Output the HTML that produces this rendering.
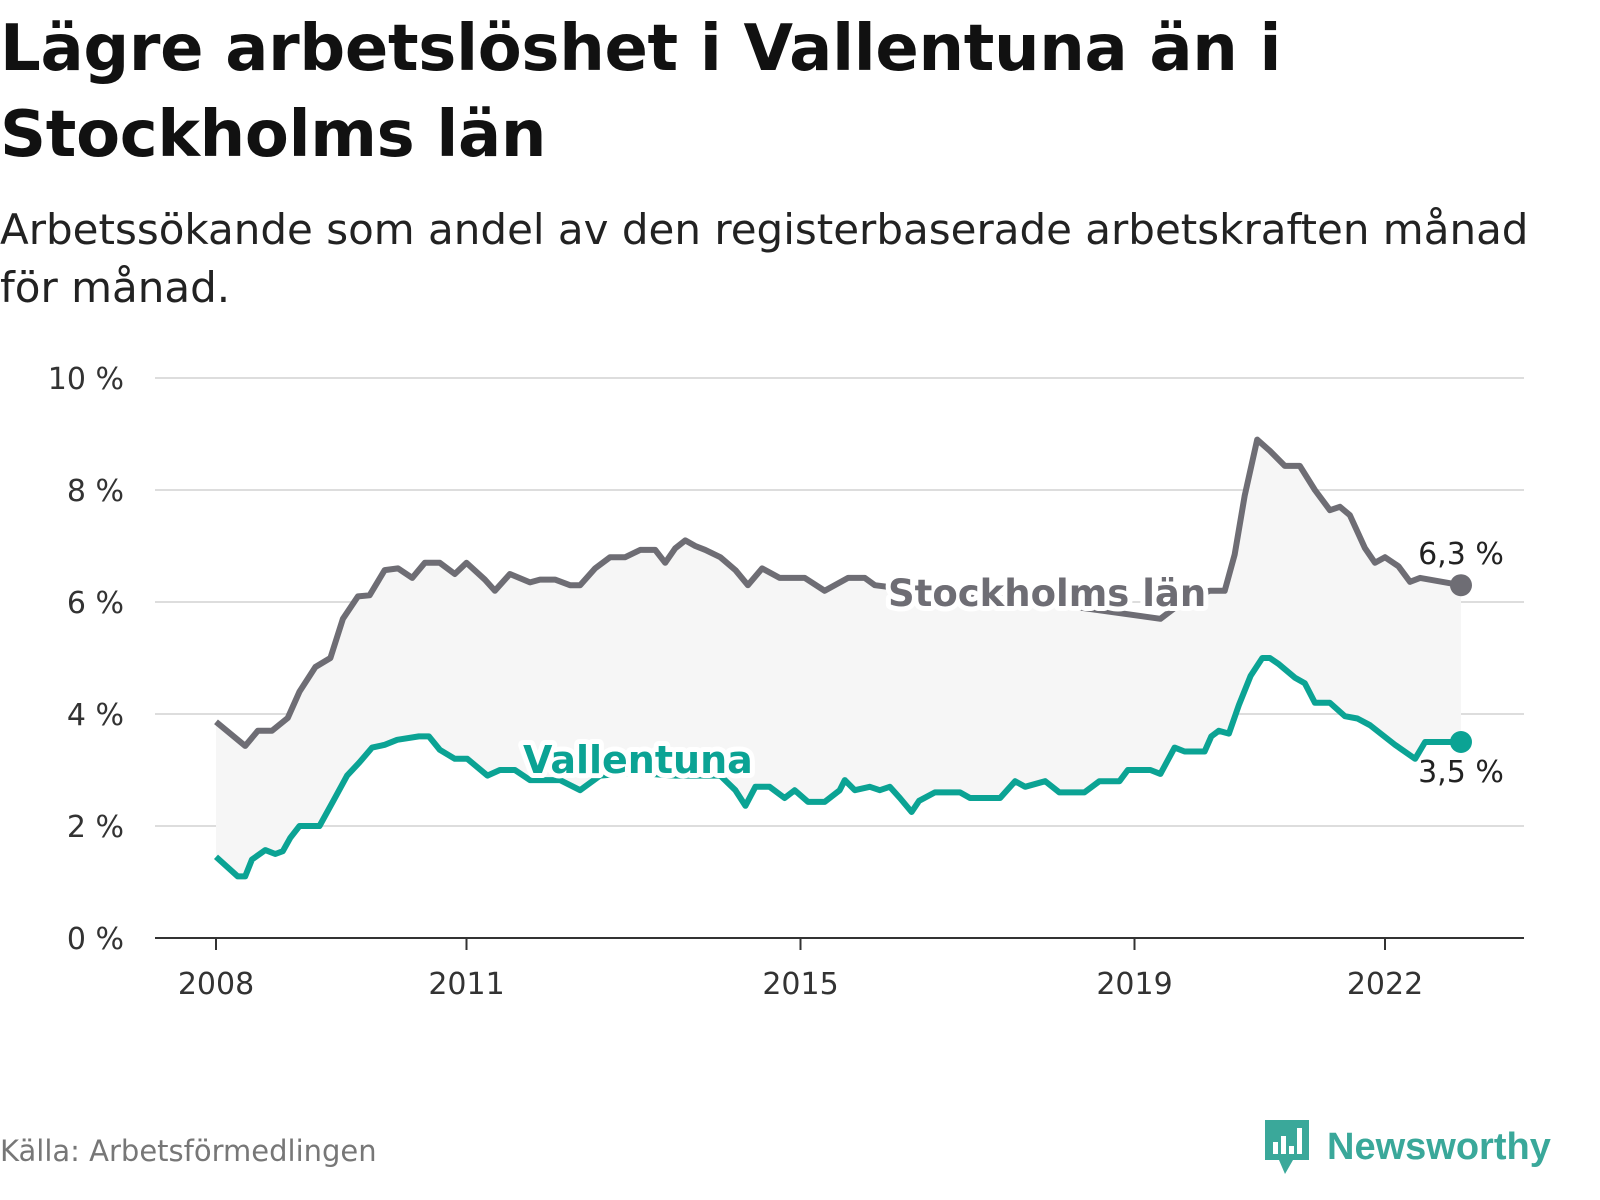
<!DOCTYPE html>
<html><head><meta charset="utf-8">
<style>
body{margin:0;width:1600px;height:1200px;background:#fff;font-family:"DejaVu Sans","Liberation Sans",sans-serif;overflow:hidden;position:relative;color:#111}
#title{position:absolute;left:0;top:6px;font-size:64px;font-weight:bold;line-height:86px;margin:0;color:#111;letter-spacing:-0.3px}
#sub{position:absolute;left:0;top:201px;font-size:42px;line-height:58px;color:#222;width:1560px}
#src{position:absolute;left:0;top:1134px;font-size:29px;color:#777}
#logo{position:absolute;left:1263px;top:1118px;display:flex;align-items:center}
svg text{font-family:"DejaVu Sans","Liberation Sans",sans-serif}
</style></head><body>
<h1 id="title">Lägre arbetslöshet i Vallentuna än i<br>Stockholms län</h1>
<div id="sub">Arbetssökande som andel av den registerbaserade arbetskraften månad för månad.</div>
<svg id="chart" width="1600" height="1100" style="position:absolute;left:0;top:0"></svg>
<div id="src">Källa: Arbetsförmedlingen</div>
<div id="logo">
<svg width="50" height="58" viewBox="0 0 50 58"><path d="M2 2h44v40H30l-8 14-6-14H2z" fill="#3aa89a"/><rect x="10" y="24" width="5" height="12" fill="#fff"/><rect x="18" y="18" width="5" height="18" fill="#fff"/><rect x="26" y="28" width="5" height="8" fill="#fff"/><rect x="34" y="10" width="5" height="26" fill="#fff"/></svg>
<span style="font-size:38px;font-weight:bold;color:#3aa89a;margin-left:14px;font-family:'Liberation Sans',sans-serif">Newsworthy</span></div>
<script>
const yTicks=[0,2,4,6,8,10];
const xTickYears=[2008,2011,2015,2019,2022];
const stkT=[0,.35,.5,.67,.86,1.0,1.19,1.37,1.52,1.7,1.84,2.02,2.18,2.35,2.5,2.68,2.86,3.0,3.22,3.34,3.52,3.76,3.88,4.06,4.24,4.36,4.54,4.72,4.9,5.08,5.26,5.38,5.5,5.62,5.74,5.86,6.04,6.22,6.37,6.54,6.75,7.05,7.29,7.57,7.77,7.89,8.43,9.15,9.87,10.59,11.31,11.54,11.9,12.08,12.2,12.32,12.47,12.62,12.8,12.98,13.16,13.34,13.46,13.58,13.76,13.88,14.0,14.16,14.3,14.42,14.91];
const stkV=[3.86,3.43,3.7,3.7,3.93,4.4,4.84,5.0,5.7,6.1,6.12,6.57,6.6,6.43,6.7,6.7,6.5,6.7,6.4,6.2,6.5,6.35,6.4,6.4,6.3,6.3,6.6,6.8,6.8,6.93,6.93,6.7,6.96,7.1,7.0,6.93,6.8,6.57,6.3,6.6,6.43,6.43,6.2,6.43,6.43,6.3,6.2,6.1,6.0,5.85,5.7,5.96,6.2,6.2,6.85,7.9,8.9,8.7,8.43,8.43,8.0,7.64,7.7,7.55,6.96,6.7,6.8,6.64,6.36,6.43,6.3];
const valT=[0,.26,.35,.43,.59,.71,.8,.89,1.0,1.12,1.24,1.41,1.57,1.72,1.87,2.02,2.17,2.43,2.55,2.68,2.86,3.01,3.25,3.4,3.58,3.76,4.12,4.36,4.6,5.0,5.5,6.04,6.22,6.34,6.46,6.63,6.81,6.93,7.09,7.29,7.47,7.53,7.65,7.83,7.95,8.07,8.19,8.33,8.42,8.61,8.91,9.03,9.39,9.57,9.69,9.93,10.1,10.4,10.58,10.82,10.92,11.19,11.31,11.48,11.6,11.84,11.92,12.01,12.13,12.25,12.39,12.53,12.62,12.72,12.92,13.04,13.16,13.34,13.52,13.67,13.82,14.12,14.36,14.48,14.91];
const valV=[1.45,1.1,1.1,1.4,1.57,1.5,1.55,1.79,2.0,2.0,2.0,2.46,2.9,3.14,3.4,3.45,3.54,3.6,3.6,3.36,3.2,3.2,2.9,3.0,3.0,2.82,2.82,2.64,2.9,2.95,2.9,2.9,2.64,2.36,2.7,2.7,2.5,2.64,2.43,2.43,2.64,2.82,2.64,2.7,2.64,2.7,2.5,2.25,2.45,2.6,2.6,2.5,2.5,2.8,2.7,2.8,2.6,2.6,2.8,2.8,3.0,3.0,2.93,3.4,3.33,3.33,3.6,3.7,3.65,4.16,4.68,5.0,5.0,4.9,4.65,4.55,4.2,4.2,3.96,3.92,3.8,3.45,3.2,3.5,3.5];
const NS="http://www.w3.org/2000/svg";
const svg=document.getElementById('chart');
const X=t=>216+t*83.5, Y=v=>938-v*56;
function mk(tag,attrs,parent){const e=document.createElementNS(NS,tag);for(const k in attrs)e.setAttribute(k,attrs[k]);(parent||svg).appendChild(e);return e;}
yTicks.forEach(v=>{
 if(v>0){const g=mk('line',{x1:155,x2:1524,y1:Y(v),y2:Y(v),stroke:'#ddd','stroke-width':2});
 
 }
 const t=mk('text',{x:124,y:Y(v)+11,'text-anchor':'end','font-size':30,fill:'#333'});
 t.textContent=v+' %';
 
 
});
const ax=mk('line',{x1:155,x2:1524,y1:938,y2:938,stroke:'#333','stroke-width':2});


xTickYears.forEach(y=>{const x=X(y-2008);
 const tk=mk('line',{x1:x,x2:x,y1:938,y2:950,stroke:'#333','stroke-width':2});
 
 
 const t=mk('text',{x:x,y:994,'text-anchor':'middle','font-size':30,fill:'#333'});t.textContent=y;
 
 });
const pts=(T,V)=>T.map((t,i)=>X(t).toFixed(1)+','+Y(V[i]).toFixed(1));
const area=mk('polygon',{points:pts(stkT,stkV).concat(pts(valT,valV).reverse()).join(' '),fill:'#f6f6f6'});


const ls=mk('polyline',{points:pts(stkT,stkV).join(' '),fill:'none',stroke:'#6e6d74','stroke-width':6,'stroke-linejoin':'round'});


const lv=mk('polyline',{points:pts(valT,valV).join(' '),fill:'none',stroke:'#0ba394','stroke-width':6,'stroke-linejoin':'round'});


const lastS=stkT.length-1,lastV=valT.length-1;
const d1=mk('circle',{cx:X(stkT[lastS]),cy:Y(stkV[lastS]),r:11,fill:'#6e6d74'});


const d2=mk('circle',{cx:X(valT[lastV]),cy:Y(valV[lastV]),r:11,fill:'#0ba394'});


const e1=mk('text',{x:X(stkT[lastS]),y:Y(stkV[lastS])-21,'text-anchor':'middle','font-size':30,fill:'#222'});e1.textContent=String(stkV[lastS]).replace('.',',')+' %';


const e2=mk('text',{x:X(valT[lastV]),y:Y(valV[lastV])+40,'text-anchor':'middle','font-size':30,fill:'#222'});e2.textContent=String(valV[lastV]).replace('.',',')+' %';


function label(txt,x,y,col,name,fs){
 const t=mk('text',{x:x,y:y,'font-size':fs,'font-weight':'bold',fill:col,stroke:'#fff','stroke-width':10,'paint-order':'stroke','stroke-linejoin':'round'});t.textContent=txt;
 
 }
label('Stockholms län',888,606,'#6e6d74','stockholm-series-label',37);
label('Vallentuna',523,773,'#0ba394','vallentuna-series-label',38);
</script>
</body></html>
